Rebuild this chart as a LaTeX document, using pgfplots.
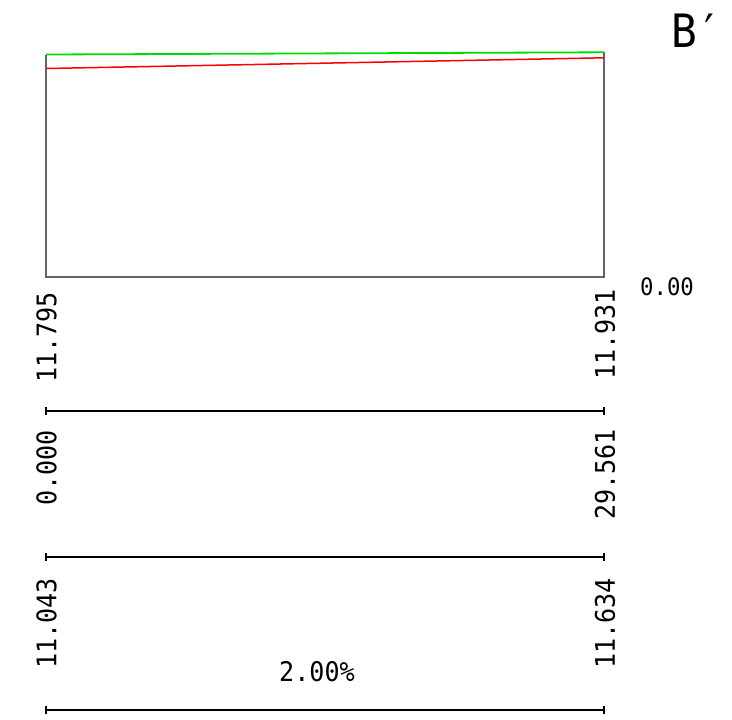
\documentclass[border=0pt]{standalone}
\usepackage{fontspec}
\setmainfont{DejaVu Sans Mono}[FakeStretch=0.93]
\usepackage{pgfplots}
\pgfplotsset{compat=1.18}
\definecolor{boxgray}{RGB}{100,100,100}
\definecolor{cadgreen}{RGB}{0,220,0}
\definecolor{cadred}{RGB}{255,0,0}
\tikzset{lab/.style={inner sep=0pt, font=\fontsize{27}{27}\selectfont}}
\begin{document}
\begin{tikzpicture}
\begin{axis}[
  scale only axis, width=732pt, height=720pt,
  xmin=0, xmax=732, ymin=0, ymax=720, y dir=reverse,
  hide axis, clip=false,
]
\path[draw=none] (axis cs:0,0) rectangle (axis cs:732,720);
% profile box
\addplot[boxgray, line width=1.5pt] coordinates {(46,54.5) (46,277) (604,277) (604,52.3)};
% lines
\addplot[cadgreen, line width=1.8pt] coordinates {(46,54.5) (604,52.3)};
\addplot[cadred, line width=1.5pt] coordinates {(46,68.5) (604,57.8)};
% separators
\foreach \yy in {411,557,710} {
  \addplot[black, line width=1.5pt] coordinates {(46,\yy) (604,\yy)};
  \addplot[black, line width=1.5pt] coordinates {(46,\yy-4) (46,\yy+4)};
  \addplot[black, line width=1.5pt] coordinates {(604,\yy-4) (604,\yy+4)};
}
% labels
\node[lab, rotate=90, anchor=east] at (axis cs:46.5,292) {11.795};
\node[lab, rotate=90, anchor=east] at (axis cs:605,289) {11.931};
\node[lab, rotate=90, anchor=east] at (axis cs:46.5,430) {0.000};
\node[lab, rotate=90, anchor=east] at (axis cs:605,429) {29.561};
\node[lab, rotate=90, anchor=east] at (axis cs:46.5,578) {11.043};
\node[lab, rotate=90, anchor=east] at (axis cs:605,578) {11.634};
\node[inner sep=0pt, font=\fontsize{24}{24}\selectfont, anchor=center] at (axis cs:667,287) {0.00};
\node[lab, anchor=center] at (axis cs:317,672) {2.00\%};
\node[inner sep=0pt, anchor=west, font=\fontsize{46}{46}\selectfont] at (axis cs:671,31) {B′};
\end{axis}
\end{tikzpicture}
\end{document}
